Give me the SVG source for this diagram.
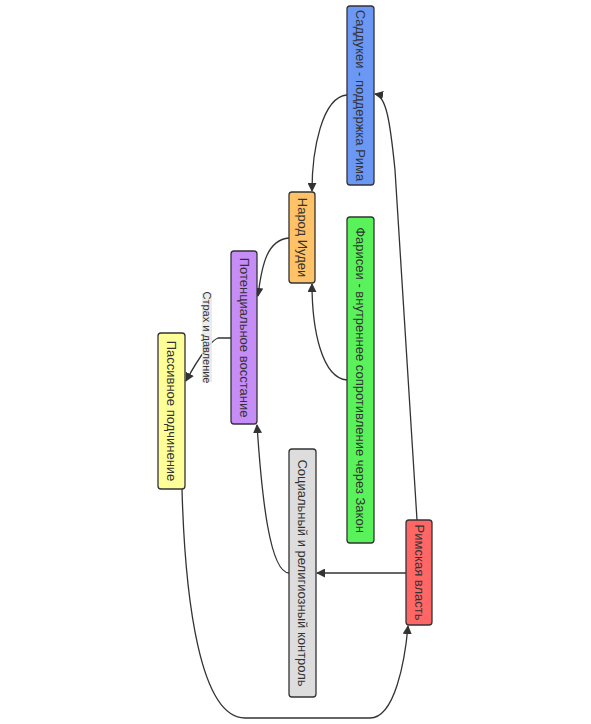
<svg xmlns="http://www.w3.org/2000/svg" width="591" height="724" viewBox="0 0 591 724">
<defs>
<marker id="arr" viewBox="0 0 10 10" refX="9" refY="5" markerWidth="9" markerHeight="9" markerUnits="userSpaceOnUse" orient="auto">
<path d="M0,0 L10,5 L0,10 z" fill="#333"/>
</marker>
<style>
.node rect{stroke:#333;stroke-width:1.3}
.node text{font-family:"Liberation Sans",Arial,sans-serif;font-size:13px;fill:#333;text-anchor:middle;dominant-baseline:central}
.edge{fill:none;stroke:#333;stroke-width:1.3;marker-end:url(#arr)}
.lbl{font-family:"Liberation Sans",Arial,sans-serif;font-size:11px;fill:#333;text-anchor:middle;dominant-baseline:central}
</style>
</defs>
<rect width="591" height="724" fill="#fff"/>
<g id="connectors">
<path class="edge" d="M347,95 C322,97 312,150 312,191"/>
<path class="edge" d="M347,380 C322,378 312,330 312,284"/>
<path class="edge" d="M289,238 C268,240 262,262 258,296"/>
<path class="edge" d="M231,338 L218,338 C212,340 200,355 186,381"/>
<path class="edge" d="M289,573 C270,572 262,500 257,425"/>
<path class="edge" d="M406,573 L317,573"/>
<path class="edge" d="M417,520 L395,170 C390,120 386,96 375,94"/>
<path class="edge" d="M182,489 C185,600 200,718 245,718 L370,718 C395,718 405,660 408,626"/>
<rect x="202" y="293" width="10" height="89" fill="#e8e8e8" opacity="0.85"/>
<text class="lbl" transform="translate(207,337.5) rotate(90)">Страх и давление</text>
</g>
<g id="saddukei" class="node">
<rect x="347" y="6" width="27" height="179" rx="3" fill="#6b97f5"/>
<text transform="translate(360.5,95.5) rotate(90)">Саддукеи - поддержка Рима</text>
</g>
<g id="narod" class="node">
<rect x="289" y="192" width="26" height="91" rx="3" fill="#ffc266"/>
<text transform="translate(302,237.5) rotate(90)">Народ Иудеи</text>
</g>
<g id="farisei" class="node">
<rect x="347" y="217" width="27" height="326" rx="3" fill="#5af25a"/>
<text transform="translate(360.5,380) rotate(90)">Фарисеи - внутреннее сопротивление через Закон</text>
</g>
<g id="potential" class="node">
<rect x="231" y="251" width="26" height="173" rx="3" fill="#c68df7"/>
<text transform="translate(244,337.5) rotate(90)">Потенциальное восстание</text>
</g>
<g id="passive" class="node">
<rect x="158" y="333" width="27" height="156" rx="3" fill="#ffff99"/>
<text transform="translate(171.5,411) rotate(90)">Пассивное подчинение</text>
</g>
<g id="social" class="node">
<rect x="289" y="449" width="27" height="248" rx="3" fill="#dddddd"/>
<text transform="translate(302.5,573) rotate(90)">Социальный и религиозный контроль</text>
</g>
<g id="roman" class="node">
<rect x="406" y="520" width="26" height="105" rx="3" fill="#ff6666"/>
<text transform="translate(419,572.5) rotate(90)">Римская власть</text>
</g>
</svg>
